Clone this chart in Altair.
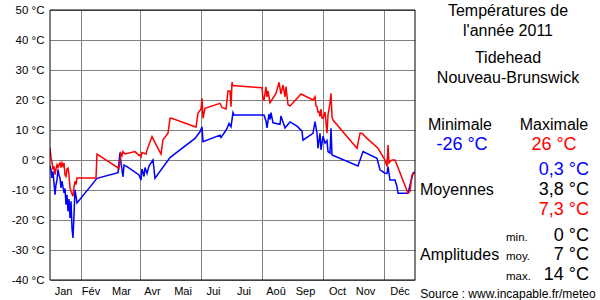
import altair as alt
import pandas as pd

FONT = "Liberation Sans"

# Daily maxima (red): day of year, °C
max_days = [0, 1, 2, 3, 4, 5, 6, 7, 8, 9, 10, 11, 12, 13, 14, 15, 16, 17, 18, 19,
            20, 21, 23, 24, 25, 26, 27, 46, 47, 69, 71, 72, 73, 75, 85, 89, 90, 91,
            92, 96, 97, 102, 108, 111, 113, 118, 120, 121, 145, 146, 148, 151, 152,
            153, 155, 170, 172, 176, 178, 180, 181, 182, 183, 198, 212, 213, 214,
            216, 217, 218, 220, 226, 229, 231, 233, 235, 236, 238, 240, 251, 263,
            265, 266, 267, 268, 269, 270, 271, 272, 273, 275, 277, 278, 280, 281,
            282, 283, 307, 310, 312, 317, 328, 335, 337, 338, 339, 340, 342, 345,
            358, 360, 362, 365]
max_temps = [4, 0.7, -0.7, -3.2, -2.1, -4.9, -3, -1.6, -2.5, -1.5, -1, -2.5, -1, -2,
             -1, -4.9, -5.5, -3, -2.7, -5, -9.3, -10.4, -12.1, -9, -7.1, -8.2, -6, -6,
             2, -2.8, 2.2, 1.5, 2.8, 2, 2.8, 1.5, 1.7, 1, 2.5, 2, 3.3, 7.8, 3.9, 2,
             6.7, 8.9, 13.9, 14, 11.1, 11, 15.6, 17, 20.6, 13.9, 17.2, 18.9, 17.5,
             17, 23, 23, 17.8, 25.9, 24.8, 24.4, 24.1, 20.2, 20, 24.4, 21, 23, 19.1,
             22.2, 25.9, 22, 25, 21, 24.5, 18.5, 18, 22, 20, 21.1, 18, 17.8, 16, 16.1,
             14.5, 17, 14, 13.9, 16, 8.9, 15, 19, 22.2, 14.4, 13.3, 3.9, 8.9, 8.9,
             7.2, 3.9, 0, -2.2, 5, -1, -0.6, 0, 0, -11.1, -10.5, -5, -4.2]

# Daily minima (blue): day of year, °C
min_days = [0, 1, 2, 3, 5, 6, 7, 8, 9, 10, 11, 12, 14, 15, 16, 17, 18, 19, 20, 21,
            22, 23, 24, 25, 26, 27, 47, 68, 70, 71, 73, 74, 77, 89, 91, 92, 94, 95,
            97, 99, 103, 105, 120, 145, 150, 152, 153, 170, 171, 175, 177, 179, 181,
            183, 184, 214, 216, 217, 219, 220, 221, 223, 230, 231, 235, 240, 247,
            252, 253, 263, 265, 267, 268, 270, 271, 273, 275, 277, 278, 280, 281,
            282, 308, 313, 327, 330, 335, 337, 338, 340, 345, 347, 348, 358, 363,
            365]
min_temps = [-2, -3.2, -6, -3.8, -11.6, -8.2, -6.6, -3.2, -5, -6, -9.3, -7, -11,
             -9.5, -14.9, -11.6, -17.1, -13, -19.3, -13.8, -22.7, -26, -18.2, -9.9,
             -12, -14.3, -6.1, -4.2, 2.5, -1, -5.6, -1.7, -2.2, -5, -6.7, -3, -5.5,
             -2.5, -4.5, -2, 0, -6.1, 0.8, 7.2, 9.4, 11.1, 6.1, 8.3, 7.5, 9.4, 10.5,
             12.2, 11.1, 15.8, 15, 15, 13, 10.7, 15.3, 13.5, 15.8, 12.4, 11.9, 14.7,
             10.7, 12.7, 11.3, 9.6, 6.6, 8.9, 12.8, 9, 3.9, 8.9, 3.4, 7.9, 5.6, 6.5,
             2.8, 2.3, 10.6, 1.7, -2, 2.8, 0.6, -3.3, -4.4, -4.5, -2.2, -6.7, -6.7,
             -8.9, -11.1, -11.1, -4.4, -4]

month_names = ["Jan", "Fév", "Mar", "Avr", "Mai", "Jui", "Jui", "Aoû", "Sep",
               "Oct", "Nov", "Déc"]
month_label_days = [13.5, 41, 71.5, 102.5, 133, 163.5, 194, 226, 255.5, 287.5,
                    315.5, 350]
month_starts = [31, 59, 90, 120, 151, 181, 212, 243, 273, 304, 334]
y_ticks = [-40, -30, -20, -10, 0, 10, 20, 30, 40, 50]

rows = []
for i, (d, t) in enumerate(zip(min_days, min_temps)):
    rows.append({"day": d, "temp": t, "series": "min", "idx": i})
for i, (d, t) in enumerate(zip(max_days, max_temps)):
    rows.append({"day": d, "temp": t, "series": "max", "idx": i})
df = pd.DataFrame(rows)

xscale = alt.Scale(domain=[0, 365], nice=False, zero=False)
yscale = alt.Scale(domain=[-40, 50], nice=False, zero=False)

lines = alt.Chart(df).mark_line(strokeWidth=1.5, clip=True).encode(
    x=alt.X("day:Q", scale=xscale,
            axis=alt.Axis(values=month_starts, grid=True, labels=False, ticks=False,
                          domain=False, title=None, gridColor="#808080",
                          gridOpacity=1, gridWidth=1)),
    y=alt.Y("temp:Q", scale=yscale,
            axis=alt.Axis(values=y_ticks, labelExpr="datum.value + ' °C'",
                          grid=True, ticks=False, domain=False, title=None,
                          gridColor="#808080", gridOpacity=1, gridWidth=1,
                          labelFont=FONT, labelFontSize=11.5, labelColor="black",
                          labelPadding=6)),
    color=alt.Color("series:N",
                    scale=alt.Scale(domain=["min", "max"], range=["#0000ff", "#ff0000"]),
                    legend=None),
    order=alt.Order("idx:Q"),
)

months_df = pd.DataFrame({"day": month_label_days, "name": month_names})
month_text = alt.Chart(months_df).mark_text(
    font=FONT, fontSize=11, color="black", baseline="alphabetic", align="center"
).encode(x=alt.X("day:Q"), y=alt.value(285), text="name:N")

frame = alt.Chart(pd.DataFrame({"a": [0]})).mark_rect(
    fillOpacity=0, stroke="black", strokeWidth=1
).encode(x=alt.value(0), x2=alt.value(365), y=alt.value(0), y2=alt.value(270))


def label(txt, x, y, size=16, color="black", align="center"):
    return alt.Chart(pd.DataFrame({"t": [txt]})).mark_text(
        font=FONT, fontSize=size, color=color, align=align, baseline="alphabetic"
    ).encode(x=alt.value(x - 50), y=alt.value(y - 10), text="t:N")


texts = [
    label("Températures de", 508, 15.5),
    label("l'année 2011", 508, 35.5),
    label("Tidehead", 508, 62.5),
    label("Nouveau-Brunswick", 508, 82.5),
    label("Minimale", 460, 130),
    label("Maximale", 554, 130),
    label("-26 °C", 462, 150, size=18, color="#0000ff"),
    label("26 °C", 554, 150, size=18, color="#ff0000"),
    label("0,3 °C", 589, 174.5, size=18, color="#0000ff", align="right"),
    label("Moyennes", 420, 195, align="left"),
    label("3,8 °C", 589, 195, size=18, align="right"),
    label("7,3 °C", 589, 215, size=18, color="#ff0000", align="right"),
    label("min.", 506, 240.5, size=11.5, align="left"),
    label("0 °C", 589, 240.5, size=18, align="right"),
    label("Amplitudes", 420, 260, align="left"),
    label("moy.", 506, 260, size=11.5, align="left"),
    label("7 °C", 589, 260, size=18, align="right"),
    label("max.", 506, 279.5, size=11.5, align="left"),
    label("14 °C", 589, 279.5, size=18, align="right"),
    label("Source : www.incapable.fr/meteo", 508, 297.5, size=12),
]

chart = alt.layer(lines, month_text, frame, *texts).properties(
    width=365,
    height=270,
    autosize=alt.AutoSizeParams(type="none"),
    padding={"left": 50, "top": 10, "right": 185, "bottom": 20},
    background="white",
).configure_view(stroke=None)

chart.save("out.html", embed_options={"renderer": "svg", "actions": False})
